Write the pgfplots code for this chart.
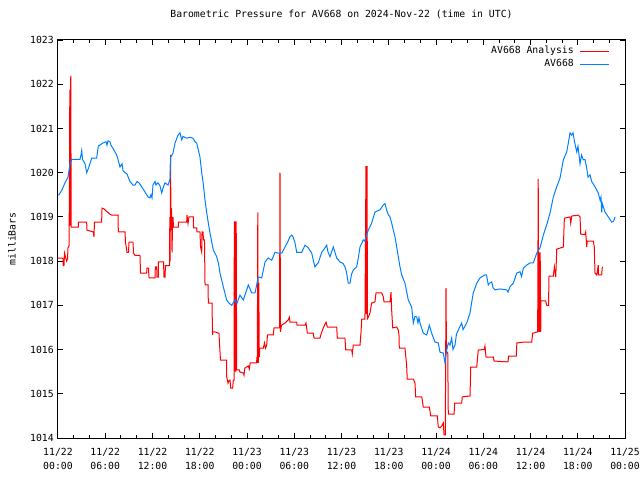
\documentclass[border=0pt]{standalone}
\usepackage{fontspec}
\setmainfont{DejaVu Sans Mono}
\usepackage{pgfplots}
\usepackage{pgfplotstable}
\pgfplotsset{compat=1.18}
\definecolor{gred}{RGB}{255,0,0}
\definecolor{gblue}{RGB}{0,128,255}

\pgfplotstableread{
h p
0 1018.07
0.63 1018.07
0.67 1017.9
0.76 1017.9
0.83 1018.18
0.95 1018.1
1.10 1018.0
1.21 1018.05
1.27 1018.3
1.40 1018.35
1.46 1019.9
1.50 1021.88
1.55 1018.8
1.62 1022.19
1.68 1018.77
2.58 1018.77
2.60 1018.88
3.64 1018.88
3.68 1018.7
4.48 1018.66
4.57 1018.55
4.63 1018.88
5.54 1018.88
5.59 1019.2
5.84 1019.18
6.18 1019.12
6.35 1019.1
6.60 1019.06
6.82 1019.04
7.62 1019.04
7.66 1018.66
8.51 1018.66
8.57 1018.43
8.76 1018.2
8.95 1018.2
9.02 1018.43
9.52 1018.43
9.59 1018.18
9.78 1018.13
10.41 1018.13
10.48 1017.73
11.26 1017.73
11.30 1017.84
11.49 1017.84
11.56 1017.62
12.32 1017.62
12.36 1017.87
12.53 1017.87
12.57 1017.64
12.74 1017.64
12.76 1017.98
13.40 1017.98
13.46 1017.64
13.59 1017.64
13.65 1017.9
14.16 1017.9
14.20 1019.0
14.24 1018.0
14.29 1020.4
14.35 1018.77
14.41 1019.2
14.48 1018.2
14.54 1018.77
14.60 1019.0
14.67 1018.77
15.28 1018.77
15.30 1018.88
15.49 1018.88
15.56 1018.88
16.34 1018.88
16.38 1019.04
16.51 1018.85
16.63 1019.0
17.18 1019.0
17.21 1018.75
17.61 1018.75
17.65 1018.66
18.03 1018.66
18.10 1018.32
18.25 1018.2
18.29 1018.66
18.41 1018.66
18.48 1018.48
18.60 1018.48
18.67 1017.46
19.05 1017.46
19.09 1017.05
19.56 1017.05
19.62 1016.33
19.68 1016.4
19.94 1016.4
20.36 1016.37
20.44 1016.37
20.63 1015.76
21.40 1015.76
21.42 1015.38
21.59 1015.24
21.71 1015.3
21.84 1015.31
21.93 1015.13
22.18 1015.13
22.26 1015.31
22.35 1015.31
22.39 1018.9
22.45 1015.5
22.51 1018.9
22.58 1015.5
22.63 1018.9
22.69 1015.54
23.02 1015.54
23.11 1015.49
23.53 1015.47
23.62 1015.42
23.72 1015.58
24.17 1015.63
24.29 1015.56
24.41 1015.7
25.21 1015.7
25.27 1015.83
25.31 1015.7
25.37 1019.1
25.43 1015.7
25.50 1017.5
25.56 1015.83
25.62 1016.03
26.07 1016.03
26.22 1016.15
26.35 1016.03
26.50 1016.1
26.60 1016.33
27.34 1016.33
27.43 1016.49
28.13 1016.49
28.19 1020.0
28.25 1016.4
28.38 1016.55
28.83 1016.6
29.24 1016.67
29.37 1016.73
29.46 1016.62
30.31 1016.62
30.35 1016.55
31.37 1016.55
31.49 1016.6
31.58 1016.49
31.66 1016.37
32.42 1016.37
32.51 1016.26
33.27 1016.26
33.40 1016.35
33.69 1016.49
34.03 1016.62
34.20 1016.51
35.39 1016.51
35.47 1016.26
36.44 1016.26
36.53 1015.99
37.30 1015.99
37.37 1015.9
37.50 1016.1
38.35 1016.1
38.48 1016.4
38.57 1016.69
38.98 1016.69
39.05 1018.7
39.11 1020.15
39.17 1016.8
39.24 1020.15
39.30 1016.7
39.40 1016.73
39.62 1016.83
39.83 1017.05
40.25 1017.08
40.38 1017.28
41.11 1017.28
41.31 1017.19
41.40 1017.08
42.16 1017.08
42.29 1017.3
42.37 1016.9
42.50 1016.49
43.01 1016.51
43.21 1016.44
43.30 1016.33
43.34 1016.03
44.06 1016.03
44.27 1015.65
44.35 1015.33
45.12 1015.33
45.21 1015.3
45.33 1015.24
45.42 1014.93
46.18 1014.93
46.22 1014.9
46.39 1014.7
47.15 1014.7
47.33 1014.5
48.17 1014.5
48.29 1014.25
48.51 1014.23
48.72 1014.27
48.93 1014.34
49.02 1014.07
49.18 1014.07
49.27 1017.39
49.33 1015.94
49.49 1015.94
49.56 1014.54
50.29 1014.54
50.38 1014.79
51.26 1014.79
51.34 1014.93
52.32 1014.95
52.41 1015.6
53.17 1015.6
53.37 1015.99
54.10 1016.0
54.22 1016.08
54.35 1015.83
55.28 1015.83
55.37 1015.74
57.14 1015.72
57.22 1015.85
58.19 1015.85
58.27 1016.15
59.20 1016.17
60.15 1016.17
60.28 1016.37
60.91 1016.4
60.98 1019.86
61.04 1016.4
61.10 1018.2
61.17 1016.4
61.23 1018.2
61.30 1016.4
61.33 1017.1
61.93 1017.1
62.06 1017.0
62.29 1017.0
62.35 1017.66
62.90 1017.66
63.03 1017.87
63.21 1017.64
63.33 1018.27
64.17 1018.32
64.30 1018.97
65.02 1019.0
65.11 1018.86
65.24 1019.02
66.08 1019.04
66.29 1019.0
66.38 1018.61
66.92 1018.6
67.01 1018.66
67.14 1018.32
67.21 1018.45
67.98 1018.45
68.10 1018.32
68.19 1017.73
68.41 1017.69
68.61 1017.91
68.63 1017.69
69.04 1017.69
69.12 1017.87
}\redtab

\pgfplotstableread{
h p
0 1019.5
0.13 1019.5
0.47 1019.6
0.89 1019.77
1.27 1019.9
1.52 1020.2
1.74 1020.3
2.79 1020.3
2.92 1020.4
3.01 1020.5
3.11 1020.3
3.43 1020.2
3.64 1020.0
3.87 1020.1
4.28 1020.33
4.91 1020.33
5.12 1020.6
5.71 1020.67
6.10 1020.7
6.22 1020.62
6.35 1020.72
6.60 1020.7
6.73 1020.62
6.98 1020.55
7.45 1020.4
7.62 1020.3
7.87 1020.13
8.13 1020.2
8.25 1020.05
8.51 1020.0
8.76 1019.97
9.14 1019.8
9.52 1019.72
9.78 1019.72
10.03 1019.8
10.29 1019.77
10.63 1019.68
10.92 1019.6
11.26 1019.5
11.43 1019.45
11.68 1019.43
11.81 1019.5
11.94 1019.43
12.06 1019.72
12.32 1019.8
12.44 1019.72
12.70 1019.77
12.95 1019.7
13.17 1019.54
13.33 1019.65
13.59 1019.77
13.97 1019.72
14.22 1019.85
14.31 1020.35
14.60 1020.44
14.86 1020.67
15.24 1020.85
15.49 1020.9
15.71 1020.74
15.87 1020.82
16.34 1020.78
16.76 1020.8
17.14 1020.78
17.40 1020.7
17.61 1020.67
17.84 1020.5
18.03 1020.35
18.25 1020.0
18.41 1019.8
18.67 1019.38
18.88 1019.1
19.09 1018.86
19.30 1018.64
19.72 1018.25
20.15 1018.1
20.38 1017.95
20.57 1017.73
20.99 1017.42
21.42 1017.12
21.71 1017.05
22.06 1017.0
22.48 1017.12
22.73 1017.05
23.11 1017.23
23.53 1017.12
23.87 1017.3
24.17 1017.46
24.60 1017.28
25.02 1017.28
25.43 1017.64
25.87 1017.62
26.29 1017.98
26.70 1018.07
27.14 1018.02
27.56 1018.2
27.97 1018.18
28.41 1018.18
28.83 1018.32
29.21 1018.45
29.46 1018.55
29.68 1018.59
29.84 1018.55
30.10 1018.41
30.31 1018.2
30.95 1018.2
31.37 1018.36
31.78 1018.3
32.22 1018.18
32.38 1018.05
32.63 1017.87
32.83 1017.92
33.05 1017.96
33.49 1018.2
33.90 1018.3
34.12 1018.36
34.29 1018.2
34.54 1018.1
34.96 1018.32
35.17 1018.2
35.39 1018.07
35.81 1017.98
36.19 1017.95
36.44 1017.87
36.63 1017.75
36.86 1017.5
37.08 1017.5
37.27 1017.7
37.50 1017.8
37.93 1017.87
38.16 1018.1
38.35 1018.32
38.77 1018.48
38.98 1018.45
39.11 1018.55
39.40 1018.7
39.83 1018.86
40.25 1019.11
40.89 1019.16
41.31 1019.27
41.52 1019.3
41.74 1019.15
41.94 1019.05
42.16 1019.0
42.37 1018.86
42.58 1018.7
42.79 1018.55
43.01 1018.32
43.21 1018.1
43.43 1017.87
43.64 1017.69
44.06 1017.5
44.48 1017.12
44.91 1016.96
45.12 1016.6
45.33 1016.75
45.55 1016.74
45.71 1016.6
45.84 1016.72
45.97 1016.6
46.39 1016.37
46.82 1016.33
47.15 1016.55
47.45 1016.37
47.87 1016.17
48.29 1016.15
48.51 1015.94
48.93 1015.92
49.14 1015.7
49.36 1015.99
49.56 1016.15
49.78 1016.1
49.99 1016.26
50.16 1016.0
50.41 1016.1
50.60 1016.35
50.83 1016.44
51.26 1016.6
51.43 1016.45
51.90 1016.6
52.32 1016.83
52.73 1017.28
53.17 1017.5
53.59 1017.62
54.22 1017.69
54.41 1017.69
54.64 1017.46
54.79 1017.5
55.07 1017.53
55.24 1017.4
55.49 1017.35
56.13 1017.37
56.98 1017.35
57.14 1017.3
57.40 1017.42
57.82 1017.5
58.25 1017.73
58.67 1017.76
58.86 1017.65
59.09 1017.84
59.52 1017.91
59.94 1017.96
60.36 1017.96
60.79 1018.18
61.21 1018.3
61.63 1018.59
62.06 1018.82
62.48 1019.09
62.90 1019.45
63.33 1019.68
63.75 1019.88
64.17 1020.29
64.60 1020.47
64.83 1020.7
65.02 1020.9
65.21 1020.85
65.40 1020.9
65.59 1020.7
65.87 1020.47
66.03 1020.6
66.29 1020.2
66.48 1020.4
66.70 1020.29
66.92 1020.3
67.14 1020.1
67.30 1019.9
67.56 1019.95
67.77 1019.8
68.19 1019.68
68.61 1019.54
68.83 1019.38
68.95 1019.45
69.04 1019.1
69.12 1019.3
69.46 1019.11
69.88 1019.0
70.31 1018.88
70.54 1018.9
70.74 1019.0
}\bluetab

\begin{document}
\fontsize{9.8bp}{14bp}\selectfont
\begin{tikzpicture}
\begin{axis}[
  scale only axis, width=567bp, height=398bp,
  xmin=0, xmax=72, ymin=1014, ymax=1023,
  xtick={0,6,...,72},
  xticklabels={{11/22\\00:00},{11/22\\06:00},{11/22\\12:00},{11/22\\18:00},{11/23\\00:00},{11/23\\06:00},{11/23\\12:00},{11/23\\18:00},{11/24\\00:00},{11/24\\06:00},{11/24\\12:00},{11/24\\18:00},{11/25\\00:00}},
  xticklabel style={align=center, inner sep=0pt, yshift=-10bp, font=\fontsize{9.8bp}{14bp}\selectfont},
  minor x tick num=2,
  ytick={1014,1015,...,1023},
  yticklabels={1014,1015,1016,1017,1018,1019,1020,1021,1022,1023},
  yticklabel style={inner sep=0pt, xshift=-4bp},
  tick align=inside,
  major tick length=5bp, minor tick length=3bp,
  axis line style={line width=1bp},
  every tick/.style={black, line width=1bp},
  title={Barometric Pressure for AV668 on 2024-Nov-22 (time in UTC)},
  title style={at={(0.5,1)}, anchor=center, yshift=20bp, inner sep=0pt},
  ylabel={milliBars},
  ylabel style={at={(axis description cs:-0.0811,0.5)}, anchor=center, inner sep=0pt},
  legend plot pos=right,
  legend cell align=right,
  legend style={draw=none, fill=none, at={(1,1)}, anchor=north east, xshift=-15bp, yshift=-5bp, inner sep=0pt, row sep=0bp,
    nodes={inner sep=0bp, text height=8bp, text depth=5bp},
    /tikz/every odd column/.append style={column sep=6bp}},
  legend image code/.code={\draw[#1] (0bp,0bp) -- (29bp,0bp);},
]
\addplot[gred, line width=1bp, line join=miter] table[x=h, y=p] {\redtab};
\addlegendentry{AV668 Analysis}
\addplot[gblue, line width=1bp, line join=miter] table[x=h, y=p] {\bluetab};
\addlegendentry{AV668}
\coordinate (ll) at (rel axis cs:0,0);
\coordinate (ur) at (rel axis cs:1,1);
\end{axis}
\pgfresetboundingbox
\path ([shift={(-58bp,-42bp)}]ll) rectangle ([shift={(15bp,40bp)}]ur);
\end{tikzpicture}
\end{document}
